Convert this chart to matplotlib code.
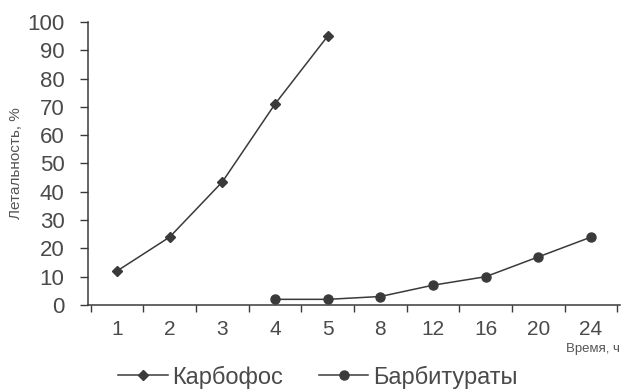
import matplotlib
matplotlib.use("Agg")
import matplotlib.pyplot as plt
import numpy as np
from matplotlib.lines import Line2D

categories = ["1", "2", "3", "4", "5", "8", "12", "16", "20", "24"]
karbofos = [12, 24, 43.5, 71, 95, None, None, None, None, None]
barbiturates = [None, None, None, 2, 2, 3, 7, 10, 17, 24]
yticks = [0, 10, 20, 30, 40, 50, 60, 70, 80, 90, 100]

col = "#3a3a3a"
tcol = "#4a4a4a"
plt.rcParams['font.family'] = ['Liberation Sans', 'DejaVu Sans']

fig = plt.figure(figsize=(6.23, 3.92), dpi=100)
ax = fig.add_axes([88/623, (392-305)/392, (620-88)/623, (305-22)/392])

x = np.arange(len(categories))
kx = [i for i, v in enumerate(karbofos) if v is not None]
ky = [v for v in karbofos if v is not None]
bx = [i for i, v in enumerate(barbiturates) if v is not None]
by = [v for v in barbiturates if v is not None]

ax.plot(kx, ky, color=col, lw=1.1, marker='D', ms=5, mfc=col, mec=col)
ax.plot(bx, by, color=col, lw=1.1, marker='o', ms=6.5, mfc=col, mec=col)

ax.set_xlim(-0.55, len(categories) - 0.45)
ax.set_ylim(0, 100)
ax.set_yticks(yticks)
ax.set_yticklabels([str(t) for t in yticks], fontsize=16, color=tcol)
ax.set_xticks(x)
ax.set_xticklabels(categories, fontsize=15, color=tcol)
ax.tick_params(axis='x', which='major', length=0, pad=11)
ax.set_xticks(np.arange(-0.5, len(categories), 1), minor=True)
ax.tick_params(axis='x', which='minor', length=5, direction='out', color=col, width=1)
ax.tick_params(axis='y', length=6, direction='out', color=col, width=1, pad=11)

for s in ['top', 'right']:
    ax.spines[s].set_visible(False)
for s in ['left', 'bottom']:
    ax.spines[s].set_color(col)
    ax.spines[s].set_linewidth(1.1)

ax.set_ylabel("Летальность, %", fontsize=11, color="#555", labelpad=3)
fig.text(620/623, 1 - 349/392, "Время, ч", fontsize=9.5, color="#555", ha='right', va='center')

handles = [
    Line2D([], [], color=col, lw=1.1, marker='D', ms=5, mfc=col, mec=col),
    Line2D([], [], color=col, lw=1.1, marker='o', ms=6.5, mfc=col, mec=col),
]
fig.legend(handles, ["Карбофос", "Барбитураты"], loc='center', bbox_to_anchor=(318/623, 1 - 377/392),
           ncol=2, frameon=False, fontsize=17, handlelength=2.1, columnspacing=1.5,
           handletextpad=0.2, labelcolor=tcol, borderaxespad=0, borderpad=0)

fig.savefig("out.png", dpi=100)
